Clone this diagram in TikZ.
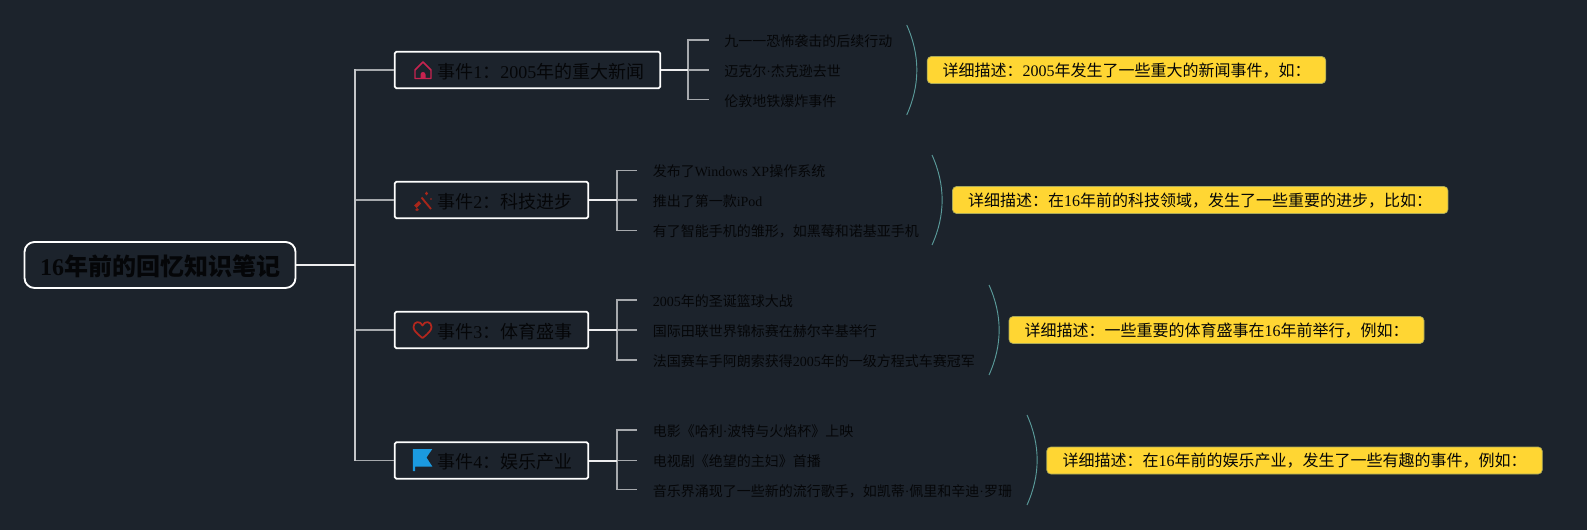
\documentclass[tikz,border=0pt]{standalone}
\usepackage{fontspec}
\usetikzlibrary{calc}
\setmainfont{Noto Sans CJK SC}
\newfontfamily\latf{Liberation Serif}
\newcommand{\lat}[1]{{\latf #1}}
\newcommand{\dropby}[2]{\smash{\raisebox{-#1}{#2}}}
\definecolor{bgc}{HTML}{1C232C}
\definecolor{ink}{HTML}{050608}
\definecolor{ln}{HTML}{A6A9AD}
\definecolor{trunkc}{HTML}{C4C6C9}
\definecolor{arcc}{HTML}{5A9A9A}
\definecolor{yel}{HTML}{FFD633}
\definecolor{yeld}{HTML}{A8A85A}
\definecolor{homec}{HTML}{C72350}
\definecolor{wandc}{HTML}{A8261A}
\definecolor{heartc}{HTML}{B3271E}
\definecolor{flagc}{HTML}{1B9AE0}
\tikzset{
  x=0.75pt,y=-0.75pt,
  rootbox/.style={draw=white,line width=1.4pt,rounded corners=7.5pt,minimum width=203.25pt,minimum height=34.5pt,inner sep=0,text=ink,font=\fontsize{18pt}{20pt}\selectfont\bfseries},
  topicbox/.style={draw=white,line width=1.4pt,rounded corners=1.2pt,minimum height=27.4pt,inner sep=0},
  topiclabel/.style={anchor=west,inner sep=0,text=ink,font=\fontsize{13.5pt}{15pt}\selectfont},
  sublabel/.style={anchor=west,inner sep=0,text=ink,font=\fontsize{10.5pt}{12pt}\selectfont},
  notebox/.style={draw=yeld,line width=0.5pt,fill=yel,rounded corners=3pt,minimum height=20.25pt,inner sep=0,text=ink,font=\fontsize{12pt}{14pt}\selectfont},
  strong/.style={draw=white!92!bgc,line width=1.5pt},
  branch/.style={draw=ln,line width=1.4pt},
  trunkline/.style={draw=trunkc,line width=1.4pt},
  arcline/.style={draw=arcc,line width=0.7pt},
}
\begin{document}
\begin{tikzpicture}
\useasboundingbox (0,0) rectangle (1587,530);
\fill[bgc] (0,0) rectangle (1587,530);
% root
\node[rootbox] (root) at (160,265) {\dropby{7.6pt}{{\latf\bfseries 16}年前的回忆知识笔记}};
% topic boxes
\node[topicbox,minimum width=199.1pt] (t1) at (527.5,70) {};
\node[topicbox,minimum width=145.1pt] (t2) at (491.5,200) {};
\node[topicbox,minimum width=145.1pt] (t3) at (491.5,330) {};
\node[topicbox,minimum width=145.1pt] (t4) at (491.5,460.5) {};
\node[topiclabel] (tl1) at (437,72) {事件\lat{1}：\lat{2005}年的重大新闻};
\node[topiclabel] (tl2) at (437,201.5) {事件\lat{2}：科技进步};
\node[topiclabel] (tl3) at (437,331.5) {事件\lat{3}：体育盛事};
\node[topiclabel] (tl4) at (437,461.5) {事件\lat{4}：娱乐产业};
% trunk
\coordinate (tk0) at (355,265);
\coordinate (tk1) at (355,70);
\coordinate (tk2) at (355,200);
\coordinate (tk3) at (355,330);
\coordinate (tk4) at (355,460.5);
\draw[branch] (tk1) -- (t1.west);
\draw[branch] (tk2) -- (t2.west);
\draw[branch] (tk3) -- (t3.west);
\draw[branch] (tk4) -- (t4.west);
\draw[trunkline,line cap=rect] (tk1) -- (tk4);
\draw[strong] (root.east) -- (tk0);
% sub labels
\node[sublabel] (s11) at (724,41.5) {九一一恐怖袭击的后续行动};
\node[sublabel] (s12) at (724,71.5) {迈克尔\lat{·}杰克逊去世};
\node[sublabel] (s13) at (724,101) {伦敦地铁爆炸事件};
\node[sublabel] (s21) at (652.5,171.5) {发布了\lat{Windows XP}操作系统};
\node[sublabel] (s22) at (652.5,201.5) {推出了第一款\lat{iPod}};
\node[sublabel] (s23) at (652.5,231.5) {有了智能手机的雏形，如黑莓和诺基亚手机};
\node[sublabel] (s31) at (652.5,301.5) {\lat{2005}年的圣诞篮球大战};
\node[sublabel] (s32) at (652.5,331.5) {国际田联世界锦标赛在赫尔辛基举行};
\node[sublabel] (s33) at (652.5,361.5) {法国赛车手阿朗索获得\lat{2005}年的一级方程式车赛冠军};
\node[sublabel] (s41) at (652.5,431.5) {电影《哈利\lat{·}波特与火焰杯》上映};
\node[sublabel] (s42) at (652.5,461.5) {电视剧《绝望的主妇》首播};
\node[sublabel] (s43) at (652.5,491) {音乐界涌现了一些新的流行歌手，如凯蒂\lat{·}佩里和辛迪\lat{·}罗珊};
% brackets
\foreach \i/\bx/\ex/\a/\b/\c in {1/688/708.5/40/70/99.5, 2/616.7/636.7/170.5/200/230.5, 3/616.7/636.7/300/330/360, 4/616.7/636.7/430/460.5/489.5}{
  \coordinate (b\i) at (\bx,\b);
  \coordinate (ba\i) at (\bx,\a);
  \coordinate (bc\i) at (\bx,\c);
  \coordinate (ea\i) at (\ex,\a);
  \coordinate (eb\i) at (\ex,\b);
  \coordinate (ec\i) at (\ex,\c);
  \draw[branch] (ea\i) -- (ba\i) -- (bc\i) -- (ec\i);
  \draw[branch] (b\i) -- (eb\i);
  \draw[strong] (t\i.east) -- (b\i);
}
% notes
\node[notebox,minimum width=298.9pt] (n1) at (1126.5,70) {\dropby{4.6pt}{详细描述：\lat{2005}年发生了一些重大的新闻事件，如：}};
\node[notebox,minimum width=371.6pt] (n2) at (1200.2,200) {\dropby{4.6pt}{详细描述：在\lat{16}年前的科技领域，发生了一些重要的进步，比如：}};
\node[notebox,minimum width=311.25pt] (n3) at (1216.5,330) {\dropby{4.6pt}{详细描述：一些重要的体育盛事在\lat{16}年前举行，例如：}};
\node[notebox,minimum width=371.6pt] (n4) at (1294.5,460.5) {\dropby{4.6pt}{详细描述：在\lat{16}年前的娱乐产业，发生了一些有趣的事件，例如：}};
% arcs
\foreach \i/\x/\t/\bb in {1/906.7/25/115, 2/932/155/245, 3/989/285/375, 4/1027/415/505}{
  \coordinate (aa\i) at (\x,\t);
  \coordinate (ab\i) at (\x,\bb);
  \draw[arcline] (aa\i) .. controls ($(aa\i)+(13.5,30)$) and ($(ab\i)+(13.5,-30)$) .. (ab\i);
}
% home icon
\draw[homec,line width=1.1pt,line join=round] (423,62) -- (431,70) -- (431,78.5) -- (415,78.5) -- (415,70) -- cycle;
\fill[homec] (420.5,78.5) -- (420.5,74.5) arc[start angle=180,end angle=360,radius=2.5] -- (425.5,78.5) -- cycle;
% wand icon
\draw[wandc,line width=1.4pt] (421.5,197.5) -- (431,209);
\fill[wandc] (426.5,191.5) -- (428,193.5) -- (426.5,195.5) -- (425,193.5) -- cycle;
\fill[wandc] (419,201) -- (421,203.5) -- (416.5,208) -- (414,205.5) -- cycle;
\fill[wandc] (417,208) -- (419,210) -- (417,211) -- (415,210) -- cycle;
\fill[wandc] (431,199) circle[radius=0.8];
% heart icon
\draw[heartc,line width=1.3pt,line join=round] (422.5,338) .. controls (416,333) and (413.5,330) .. (413.5,327) .. controls (413.5,321) and (420.5,320.5) .. (422.5,325.5) .. controls (424.5,320.5) and (431.5,321) .. (431.5,327) .. controls (431.5,330) and (429,333) .. (422.5,338) -- cycle;
% flag icon
\fill[flagc] (412.8,449) -- (432.3,449) -- (426.5,457.5) -- (432.3,466.5) -- (415,466.5) -- (415,471) -- (412.8,471) -- cycle;
\end{tikzpicture}
\end{document}
